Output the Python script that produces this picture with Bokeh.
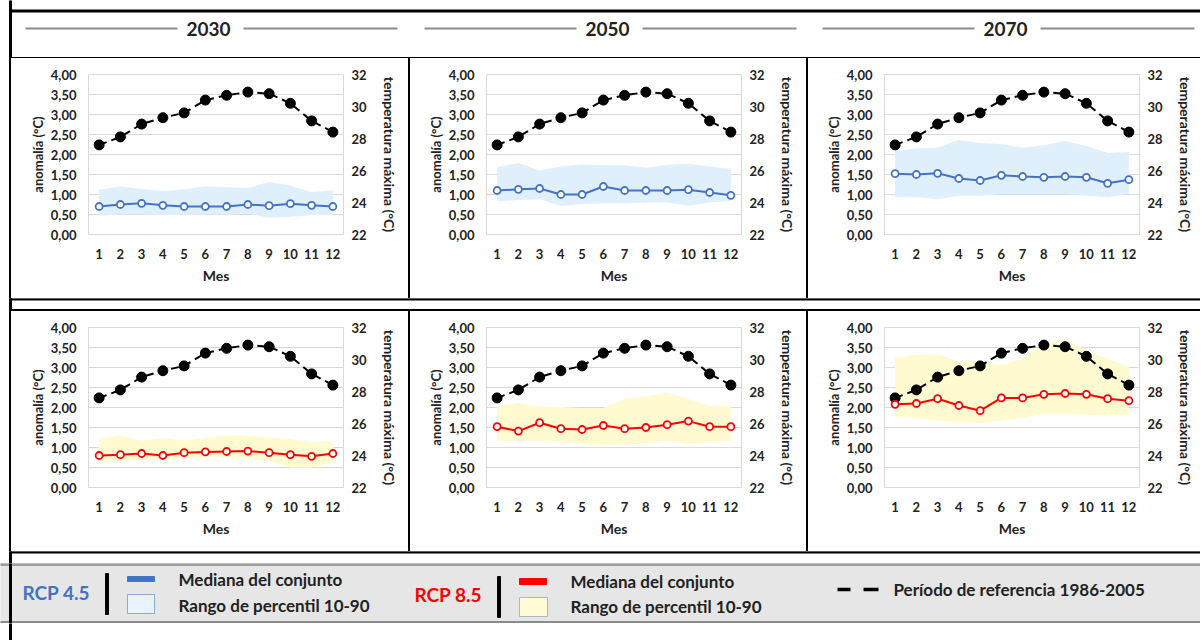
from bokeh.plotting import figure
from bokeh.layouts import column, row
from bokeh.models import Range1d, LinearAxis, FixedTicker, Spacer
from bokeh.embed import file_html
from bokeh.resources import INLINE
from bokeh.core.properties import value

# ---------------- data ----------------
MONTHS = [1, 2, 3, 4, 5, 6, 7, 8, 9, 10, 11, 12]
YEARS = ["2030", "2050", "2070"]

# reference period 1986-2005, maximum temperature (right axis, °C)
REF_TMAX = [27.6, 28.1, 28.9, 29.3, 29.6, 30.4, 30.7, 30.9, 30.8, 30.2, 29.1, 28.4]

# RCP 4.5 anomalies (°C): median, P10, P90
RCP45_2030_MED = [0.70, 0.75, 0.78, 0.73, 0.70, 0.70, 0.70, 0.75, 0.72, 0.77, 0.73, 0.70]
RCP45_2030_P90 = [1.12, 1.20, 1.14, 1.09, 1.13, 1.20, 1.18, 1.16, 1.32, 1.22, 1.06, 1.10]
RCP45_2030_P10 = [0.47, 0.50, 0.50, 0.49, 0.49, 0.50, 0.50, 0.52, 0.42, 0.44, 0.49, 0.49]

RCP45_2050_MED = [1.10, 1.13, 1.15, 1.00, 1.00, 1.20, 1.10, 1.10, 1.10, 1.12, 1.05, 0.98]
RCP45_2050_P90 = [1.68, 1.79, 1.60, 1.70, 1.75, 1.73, 1.73, 1.67, 1.74, 1.77, 1.70, 1.64]
RCP45_2050_P10 = [0.83, 0.86, 0.88, 0.72, 0.76, 0.78, 0.78, 0.80, 0.80, 0.72, 0.80, 0.84]

RCP45_2070_MED = [1.52, 1.50, 1.53, 1.40, 1.35, 1.48, 1.45, 1.43, 1.45, 1.43, 1.28, 1.37]
RCP45_2070_P90 = [2.09, 2.15, 2.17, 2.36, 2.29, 2.26, 2.17, 2.23, 2.34, 2.21, 2.04, 2.06]
RCP45_2070_P10 = [0.93, 0.94, 0.88, 0.97, 0.97, 1.01, 1.01, 1.01, 1.01, 0.97, 0.93, 1.01]

# RCP 8.5 anomalies (°C): median, P10, P90
RCP85_2030_MED = [0.80, 0.82, 0.85, 0.80, 0.87, 0.89, 0.90, 0.91, 0.87, 0.82, 0.78, 0.85]
RCP85_2030_P90 = [1.21, 1.30, 1.17, 1.24, 1.17, 1.24, 1.30, 1.30, 1.26, 1.21, 1.13, 1.17]
RCP85_2030_P10 = [0.63, 0.67, 0.68, 0.71, 0.73, 0.75, 0.75, 0.71, 0.67, 0.50, 0.50, 0.63]

RCP85_2050_MED = [1.52, 1.41, 1.62, 1.47, 1.45, 1.55, 1.47, 1.50, 1.57, 1.66, 1.52, 1.52]
RCP85_2050_P90 = [2.03, 2.11, 2.03, 2.01, 1.99, 1.99, 2.22, 2.28, 2.36, 2.22, 2.03, 2.05]
RCP85_2050_P10 = [1.17, 1.17, 1.17, 1.13, 1.09, 1.05, 1.07, 1.10, 1.17, 1.09, 1.13, 1.17]

RCP85_2070_MED = [2.08, 2.10, 2.22, 2.05, 1.92, 2.24, 2.24, 2.33, 2.35, 2.33, 2.22, 2.17]
RCP85_2070_P90 = [3.25, 3.31, 3.33, 3.14, 3.16, 3.05, 3.22, 3.58, 3.70, 3.43, 3.22, 3.01]
RCP85_2070_P10 = [1.76, 1.74, 1.67, 1.63, 1.61, 1.67, 1.74, 1.84, 1.84, 1.82, 1.80, 1.80]

LEFT_TICKS = [0.0, 0.5, 1.0, 1.5, 2.0, 2.5, 3.0, 3.5, 4.0]
LEFT_LABELS = ["0,00", "0,50", "1,00", "1,50", "2,00", "2,50", "3,00", "3,50", "4,00"]
RIGHT_TICKS = [22, 24, 26, 28, 30, 32]
RIGHT_LABELS = ["22", "24", "26", "28", "30", "32"]

X_TITLE = "Mes"
LEFT_TITLE = "anomalía (°C)"
RIGHT_TITLE = "temperatura máxima (°C)"

# ---------------- style ----------------
FONT = "Lato"
TXT = "#222222"
BLUE = "#4472c4"
RED = "#ff0000"
BLUE_BAND = "#e0effc"
YELLOW_BAND = "#fffad0"
GRID = "#d9d9d9"
W = 1200


def blank(width, height):
    p = figure(width=width, height=height, x_range=Range1d(0, width),
               y_range=Range1d(height, 0), output_backend="svg",
               toolbar_location=None, min_border=0, outline_line_color=None,
               background_fill_color="white", border_fill_color="white")
    p.axis.visible = False
    p.grid.visible = False
    return p


def vsep(width, color, height=240):
    return Spacer(width=width, height=height, styles={"background-color": color})


def left_border(p, height):
    p.quad(left=[9], right=[11], top=[0], bottom=[height], color="black")


def panel(width, left_border_px, med, p10, p90, color, band):
    right_border = width - left_border_px - 255
    p = figure(width=width, height=240, x_range=Range1d(0.5, 12.5),
               y_range=Range1d(0, 4), output_backend="svg", toolbar_location=None,
               min_border_left=left_border_px, min_border_right=right_border,
               min_border_top=16, min_border_bottom=64,
               outline_line_color=GRID, outline_line_width=1,
               background_fill_color="white", border_fill_color="white")
    p.extra_y_ranges = {"temp": Range1d(22, 32)}
    p.xgrid.visible = False
    p.ygrid.ticker = FixedTicker(ticks=LEFT_TICKS)
    p.ygrid.grid_line_color = GRID

    # band, reference line, median
    p.varea(x=MONTHS, y1=p10, y2=p90, fill_color=band)
    p.line(MONTHS, REF_TMAX, y_range_name="temp", line_color="black",
           line_width=2, line_dash="8 5")
    p.scatter(MONTHS, REF_TMAX, y_range_name="temp", size=10, color="black")
    p.line(MONTHS, med, line_color=color, line_width=2)
    p.scatter(MONTHS, med, size=7, line_color=color, line_width=1.8,
              fill_color="white")

    # axes
    ax = p.xaxis[0]
    ax.ticker = FixedTicker(ticks=MONTHS)
    ax.axis_label = X_TITLE
    ax.major_label_standoff = 14
    ax.axis_label_standoff = 5

    ay = p.yaxis[0]
    ay.ticker = FixedTicker(ticks=LEFT_TICKS)
    ay.major_label_overrides = {t: l for t, l in zip(LEFT_TICKS, LEFT_LABELS)}
    ay.axis_label = LEFT_TITLE
    ay.major_label_standoff = 12
    ay.axis_label_standoff = 2

    ar = LinearAxis(y_range_name="temp", ticker=FixedTicker(ticks=RIGHT_TICKS))
    ar.major_label_overrides = {t: l for t, l in zip(RIGHT_TICKS, RIGHT_LABELS)}
    ar.axis_label = RIGHT_TITLE
    ar.major_label_standoff = 8
    ar.axis_label_standoff = 11
    p.add_layout(ar, "right")

    for a in (ax, ay, ar):
        a.axis_line_color = None
        a.major_tick_line_color = None
        a.minor_tick_line_color = None
        a.major_tick_out = 0
        a.major_tick_in = 0
        a.minor_tick_out = 0
        a.major_label_text_font = FONT
        a.major_label_text_font_style = "bold"
        a.major_label_text_font_size = "13px"
        a.major_label_text_color = TXT
        a.axis_label_text_font = FONT
        a.axis_label_text_font_style = "bold"
        a.axis_label_text_font_size = "13px"
        a.axis_label_text_color = TXT
    ax.axis_label_text_font_size = "14px"
    ar.axis_label_text_font_size = "14px"
    return p


# ---------------- header (page y 0..58) ----------------
HH = 58
hdr = blank(W, HH)
hdr.quad(left=[9], right=[W], top=[9.5], bottom=[11.5], color="black")
left_border(hdr, HH)
hdr.quad(left=[9], right=[W], top=[57], bottom=[58], color="black")
centers = [208, 607, 1005]
for c in centers:
    hdr.segment(x0=[c - 183, c + 35], y0=[28, 28], x1=[c - 31, c + 189],
                y1=[28, 28], line_color="#8c8c8c", line_width=2)
hdr.text(x=centers, y=[28, 28, 28], text=YEARS, text_font=value(FONT),
         text_font_style="bold", text_font_size="19px", text_color=TXT,
         text_align="center", text_baseline="middle")

# ---------------- panel rows ----------------
top_panels = [
    panel(397, 77, RCP45_2030_MED, RCP45_2030_P10, RCP45_2030_P90, BLUE, BLUE_BAND),
    panel(396, 76, RCP45_2050_MED, RCP45_2050_P10, RCP45_2050_P90, BLUE, BLUE_BAND),
    panel(392, 76, RCP45_2070_MED, RCP45_2070_P10, RCP45_2070_P90, BLUE, BLUE_BAND),
]
bot_panels = [
    panel(397, 77, RCP85_2030_MED, RCP85_2030_P10, RCP85_2030_P90, RED, YELLOW_BAND),
    panel(396, 76, RCP85_2050_MED, RCP85_2050_P10, RCP85_2050_P90, RED, YELLOW_BAND),
    panel(392, 76, RCP85_2070_MED, RCP85_2070_P10, RCP85_2070_P90, RED, YELLOW_BAND),
]


def panel_row(ps):
    return row(vsep(9, "white"), vsep(2, "black"), ps[0], vsep(2, "black"), ps[1],
               vsep(2, "black"), ps[2], spacing=0)


# gap between rows (page y 298..311)
gap1 = blank(W, 13)
gap1.quad(left=[9], right=[W], top=[0], bottom=[1.5], color="black")
gap1.quad(left=[9], right=[W], top=[11], bottom=[13], color="black")
left_border(gap1, 13)

# gap below panels (page y 551..563)
gap2 = blank(W, 12)
gap2.quad(left=[9], right=[W], top=[0], bottom=[1.5], color="black")
left_border(gap2, 12)

# ---------------- legend (page y 563..623) ----------------
leg = blank(W, 60)
leg.quad(left=[0], right=[W], top=[0], bottom=[60], color="#e6e6e6")
leg.quad(left=[0], right=[W], top=[0], bottom=[2], color="#a0a0a0")
leg.quad(left=[0], right=[W], top=[58], bottom=[60], color="#8c8c8c")
left_border(leg, 60)
# RCP 4.5
leg.text(x=[22], y=[29], text=["RCP 4.5"], text_font=value(FONT),
         text_font_style="bold", text_font_size="19px", text_color=BLUE,
         text_baseline="middle")
leg.quad(left=[105], right=[108], top=[10], bottom=[51], color="black")
leg.quad(left=[127], right=[154], top=[13], bottom=[18], color=BLUE)
leg.quad(left=[127], right=[154], top=[31], bottom=[50], fill_color="#e8f3fd",
         line_color="#8fa9d6", line_width=1)
# RCP 8.5
leg.text(x=[414], y=[31], text=["RCP 8.5"], text_font=value(FONT),
         text_font_style="bold", text_font_size="19px", text_color=RED,
         text_baseline="middle")
leg.quad(left=[497], right=[500], top=[13], bottom=[54], color="black")
leg.quad(left=[519], right=[546], top=[15], bottom=[21], color=RED)
leg.quad(left=[519], right=[547], top=[34], bottom=[53], fill_color="#fffbd5",
         line_color="#a8b6cc", line_width=1)
# reference
leg.segment(x0=[837, 863], y0=[26, 26], x1=[850, 878], y1=[26, 26],
            line_color="black", line_width=3.5)
leg.text(x=[178, 178, 570, 570, 893], y=[16, 42, 18, 43, 26],
         text=["Mediana del conjunto", "Rango de percentil 10-90",
               "Mediana del conjunto", "Rango de percentil 10-90",
               "Período de referencia 1986-2005"],
         text_font=value(FONT), text_font_style="bold", text_font_size="17px",
         text_color=TXT, text_baseline="middle")

bottom = blank(W, 17)
left_border(bottom, 17)

layout = column(hdr, panel_row(top_panels), gap1, panel_row(bot_panels), gap2,
                leg, bottom, spacing=0)

open("out.html", "w").write(file_html(layout, INLINE))
